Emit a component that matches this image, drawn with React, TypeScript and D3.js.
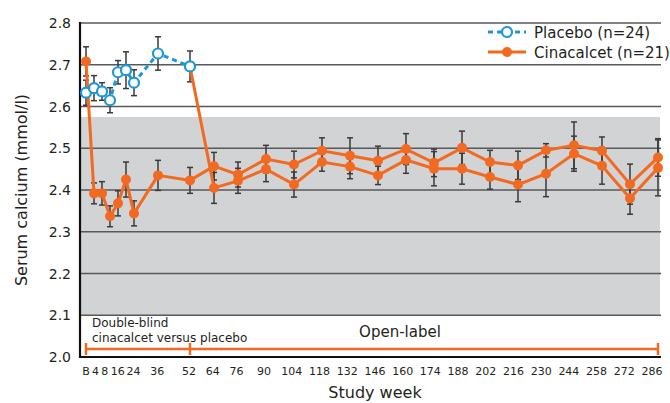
import React, { useEffect, useRef } from "react";
import * as d3 from "d3";

// study weeks (B = baseline = week 0)
const earlyWeeks = [0, 4, 8, 12, 16, 20, 24, 36, 52];
const lateWeeks = [64, 76, 90, 104, 118, 132, 146, 160, 174, 188, 202, 216, 230, 244, 258, 272, 286];

const placeboMean = [2.633, 2.644, 2.636, 2.615, 2.682, 2.687, 2.657, 2.727, 2.696];
const placeboSE = [0.03, 0.03, 0.021, 0.03, 0.028, 0.044, 0.031, 0.04, 0.037];

const cinacalcetMean = [
  2.708, 2.392, 2.392, 2.337, 2.368, 2.425, 2.344, 2.435, 2.423,
  2.457, 2.437, 2.474, 2.461, 2.494, 2.482, 2.47, 2.498, 2.465, 2.501, 2.467, 2.459, 2.495, 2.507, 2.494, 2.414, 2.478,
];
const cinacalcetSE = [
  0.035, 0.025, 0.028, 0.025, 0.03, 0.042, 0.03, 0.036, 0.031,
  0.033, 0.03, 0.033, 0.032, 0.031, 0.043, 0.035, 0.037, 0.033, 0.04, 0.028, 0.034, 0.016, 0.056, 0.033, 0.048, 0.045,
];

// placebo patients switched to open-label cinacalcet
const switchMean = [2.405, 2.422, 2.45, 2.413, 2.467, 2.456, 2.435, 2.472, 2.451, 2.451, 2.431, 2.413, 2.439, 2.487, 2.458, 2.38, 2.453];
const switchSE = [0.037, 0.03, 0.03, 0.03, 0.022, 0.029, 0.022, 0.032, 0.041, 0.037, 0.029, 0.041, 0.055, 0.042, 0.044, 0.038, 0.067];

const tickWeeks = [0, 4, 8, 16, 24, 36, 52, ...lateWeeks];
const tickLabels = ["B", "4", "8", "16", "24", "36", "52", ...lateWeeks.map(String)];
const yTicks = [2.0, 2.1, 2.2, 2.3, 2.4, 2.5, 2.6, 2.7, 2.8];
const normalRange = [2.1, 2.575];

const ORANGE = "#f26a21";
const BLUE = "#1b98d5";
const TEXT = "#231f20";
const FONT = "DejaVu Sans";

const W = 670;
const H = 403;

type Pt = { w: number; v: number; se: number };

const App = () => {
  const svgRef = useRef<SVGSVGElement>(null);

  useEffect(() => {
    const svg = d3.select(svgRef.current);
    svg.selectAll("*").remove();

    const x = d3.scaleLinear().domain([0, 286]).range([86, 658]);
    const xLabel = d3.scaleLinear().domain([0, 286]).range([86, 652]);
    const y = d3.scaleLinear().domain([2.0, 2.8]).range([357, 23]);
    const left = 80;
    const right = 661;

    const allWeeks = [...earlyWeeks, ...lateWeeks];
    const placebo: Pt[] = earlyWeeks.map((w, i) => ({ w, v: placeboMean[i], se: placeboSE[i] }));
    const cina: Pt[] = allWeeks.map((w, i) => ({ w, v: cinacalcetMean[i], se: cinacalcetSE[i] }));
    const switched: Pt[] = lateWeeks.map((w, i) => ({ w, v: switchMean[i], se: switchSE[i] }));
    const lastPlacebo = placebo[placebo.length - 1];

    // normal range band
    svg
      .append("rect")
      .attr("x", left)
      .attr("y", y(normalRange[1]))
      .attr("width", 660 - left)
      .attr("height", y(normalRange[0]) - y(normalRange[1]))
      .attr("fill", "#d1d3d4");

    // gridlines
    svg
      .append("g")
      .selectAll("line")
      .data(yTicks.slice(1))
      .join("line")
      .attr("x1", left)
      .attr("x2", right)
      .attr("y1", (d) => y(d))
      .attr("y2", (d) => y(d))
      .attr("stroke", "#58595b")
      .attr("stroke-width", 1.5);

    // y tick labels
    svg
      .append("g")
      .attr("font-family", FONT)
      .attr("font-size", 14)
      .attr("fill", TEXT)
      .attr("text-anchor", "end")
      .selectAll("text")
      .data(yTicks)
      .join("text")
      .attr("x", 71)
      .attr("y", (d) => y(d))
      .attr("dy", "0.36em")
      .text((d) => d.toFixed(1));

    // x tick labels (crowded early labels pushed apart a little)
    const nudge: Record<number, number> = { 4: 1.5, 8: 3 };
    svg
      .append("g")
      .attr("font-family", FONT)
      .attr("font-size", 11)
      .attr("fill", TEXT)
      .attr("text-anchor", "middle")
      .selectAll("text")
      .data(tickWeeks)
      .join("text")
      .attr("x", (d) => xLabel(d) + (nudge[d] || 0))
      .attr("y", 375)
      .text((d, i) => tickLabels[i]);

    // axes
    svg
      .append("line")
      .attr("x1", left)
      .attr("x2", left)
      .attr("y1", 22)
      .attr("y2", 358)
      .attr("stroke", "#111")
      .attr("stroke-width", 2.2);
    svg
      .append("line")
      .attr("x1", left - 1)
      .attr("x2", right)
      .attr("y1", y(2.0))
      .attr("y2", y(2.0))
      .attr("stroke", "#111")
      .attr("stroke-width", 2.2);

    // axis titles
    svg
      .append("text")
      .attr("transform", `translate(27,${(y(2.0) + y(2.8)) / 2}) rotate(-90)`)
      .attr("text-anchor", "middle")
      .attr("font-family", FONT)
      .attr("font-size", 16)
      .attr("fill", TEXT)
      .text("Serum calcium (mmol/l)");
    svg
      .append("text")
      .attr("x", 375)
      .attr("y", 398)
      .attr("text-anchor", "middle")
      .attr("font-family", FONT)
      .attr("font-size", 16)
      .attr("fill", TEXT)
      .text("Study week");

    // study phase bracket
    const bracketY = 349;
    const bracket = svg.append("g").attr("stroke", ORANGE).attr("stroke-width", 2.5);
    bracket
      .append("line")
      .attr("x1", x(0))
      .attr("x2", x(286))
      .attr("y1", bracketY)
      .attr("y2", bracketY);
    bracket
      .selectAll("line.tick")
      .data([0, 52, 286])
      .join("line")
      .attr("class", "tick")
      .attr("x1", (d) => x(d))
      .attr("x2", (d) => x(d))
      .attr("y1", bracketY - 6)
      .attr("y2", bracketY + 6);

    const notes = svg.append("g").attr("font-family", FONT).attr("fill", TEXT);
    notes.append("text").attr("x", 92).attr("y", 327).attr("font-size", 12).text("Double-blind");
    notes.append("text").attr("x", 92).attr("y", 342).attr("font-size", 12).text("cinacalcet versus placebo");
    notes
      .append("text")
      .attr("x", 400)
      .attr("y", 337)
      .attr("font-size", 15)
      .attr("text-anchor", "middle")
      .text("Open-label");

    // error bars
    const drawErr = (pts: Pt[]) => {
      const g = svg.append("g").attr("stroke", "#3a3a3a").attr("stroke-width", 1.5);
      pts.forEach((d) => {
        const cx = x(d.w);
        const y1 = y(d.v + d.se);
        const y2 = y(d.v - d.se);
        g.append("line").attr("x1", cx).attr("x2", cx).attr("y1", y1).attr("y2", y2);
        g.append("line").attr("x1", cx - 3).attr("x2", cx + 3).attr("y1", y1).attr("y2", y1);
        g.append("line").attr("x1", cx - 3).attr("x2", cx + 3).attr("y1", y2).attr("y2", y2);
      });
    };
    drawErr(placebo);
    drawErr(cina);
    drawErr(switched);

    const line = d3
      .line<Pt>()
      .x((d) => x(d.w))
      .y((d) => y(d.v));

    // orange lines
    svg
      .append("path")
      .attr("d", line(cina))
      .attr("fill", "none")
      .attr("stroke", ORANGE)
      .attr("stroke-width", 3);
    svg
      .append("path")
      .attr("d", line([lastPlacebo, ...switched]))
      .attr("fill", "none")
      .attr("stroke", ORANGE)
      .attr("stroke-width", 3);

    svg
      .append("g")
      .selectAll("circle")
      .data([...cina, ...switched])
      .join("circle")
      .attr("cx", (d) => x(d.w))
      .attr("cy", (d) => y(d.v))
      .attr("r", 5)
      .attr("fill", ORANGE);

    // placebo
    svg
      .append("path")
      .attr("d", line(placebo))
      .attr("fill", "none")
      .attr("stroke", BLUE)
      .attr("stroke-width", 3)
      .attr("stroke-dasharray", "5,4");
    svg
      .append("g")
      .selectAll("circle")
      .data(placebo)
      .join("circle")
      .attr("cx", (d) => x(d.w))
      .attr("cy", (d) => y(d.v))
      .attr("r", 5)
      .attr("fill", "white")
      .attr("stroke", BLUE)
      .attr("stroke-width", 2.2);

    // legend
    const legend = svg.append("g").attr("font-family", FONT).attr("font-size", 15).attr("fill", TEXT);
    const lg1 = legend.append("g").attr("transform", "translate(0,32)");
    lg1
      .append("line")
      .attr("x1", 488)
      .attr("x2", 526)
      .attr("stroke", BLUE)
      .attr("stroke-width", 3)
      .attr("stroke-dasharray", "5,4");
    lg1.append("circle").attr("cx", 507).attr("r", 5).attr("fill", "white").attr("stroke", BLUE).attr("stroke-width", 2.2);
    lg1.append("text").attr("x", 534).attr("y", 5.5).text("Placebo (n=24)");

    const lg2 = legend.append("g").attr("transform", "translate(0,52)");
    lg2.append("line").attr("x1", 488).attr("x2", 526).attr("stroke", ORANGE).attr("stroke-width", 3);
    lg2.append("circle").attr("cx", 507).attr("r", 5).attr("fill", ORANGE);
    lg2.append("text").attr("x", 534).attr("y", 5.5).text("Cinacalcet (n=21)");
  }, []);

  return (
    <div>
      <svg
        ref={svgRef}
        width={W}
        height={H}
        style={{ position: "absolute", left: 0, top: 0, background: "white", display: "block" }}
      />
    </div>
  );
};

export default App;
